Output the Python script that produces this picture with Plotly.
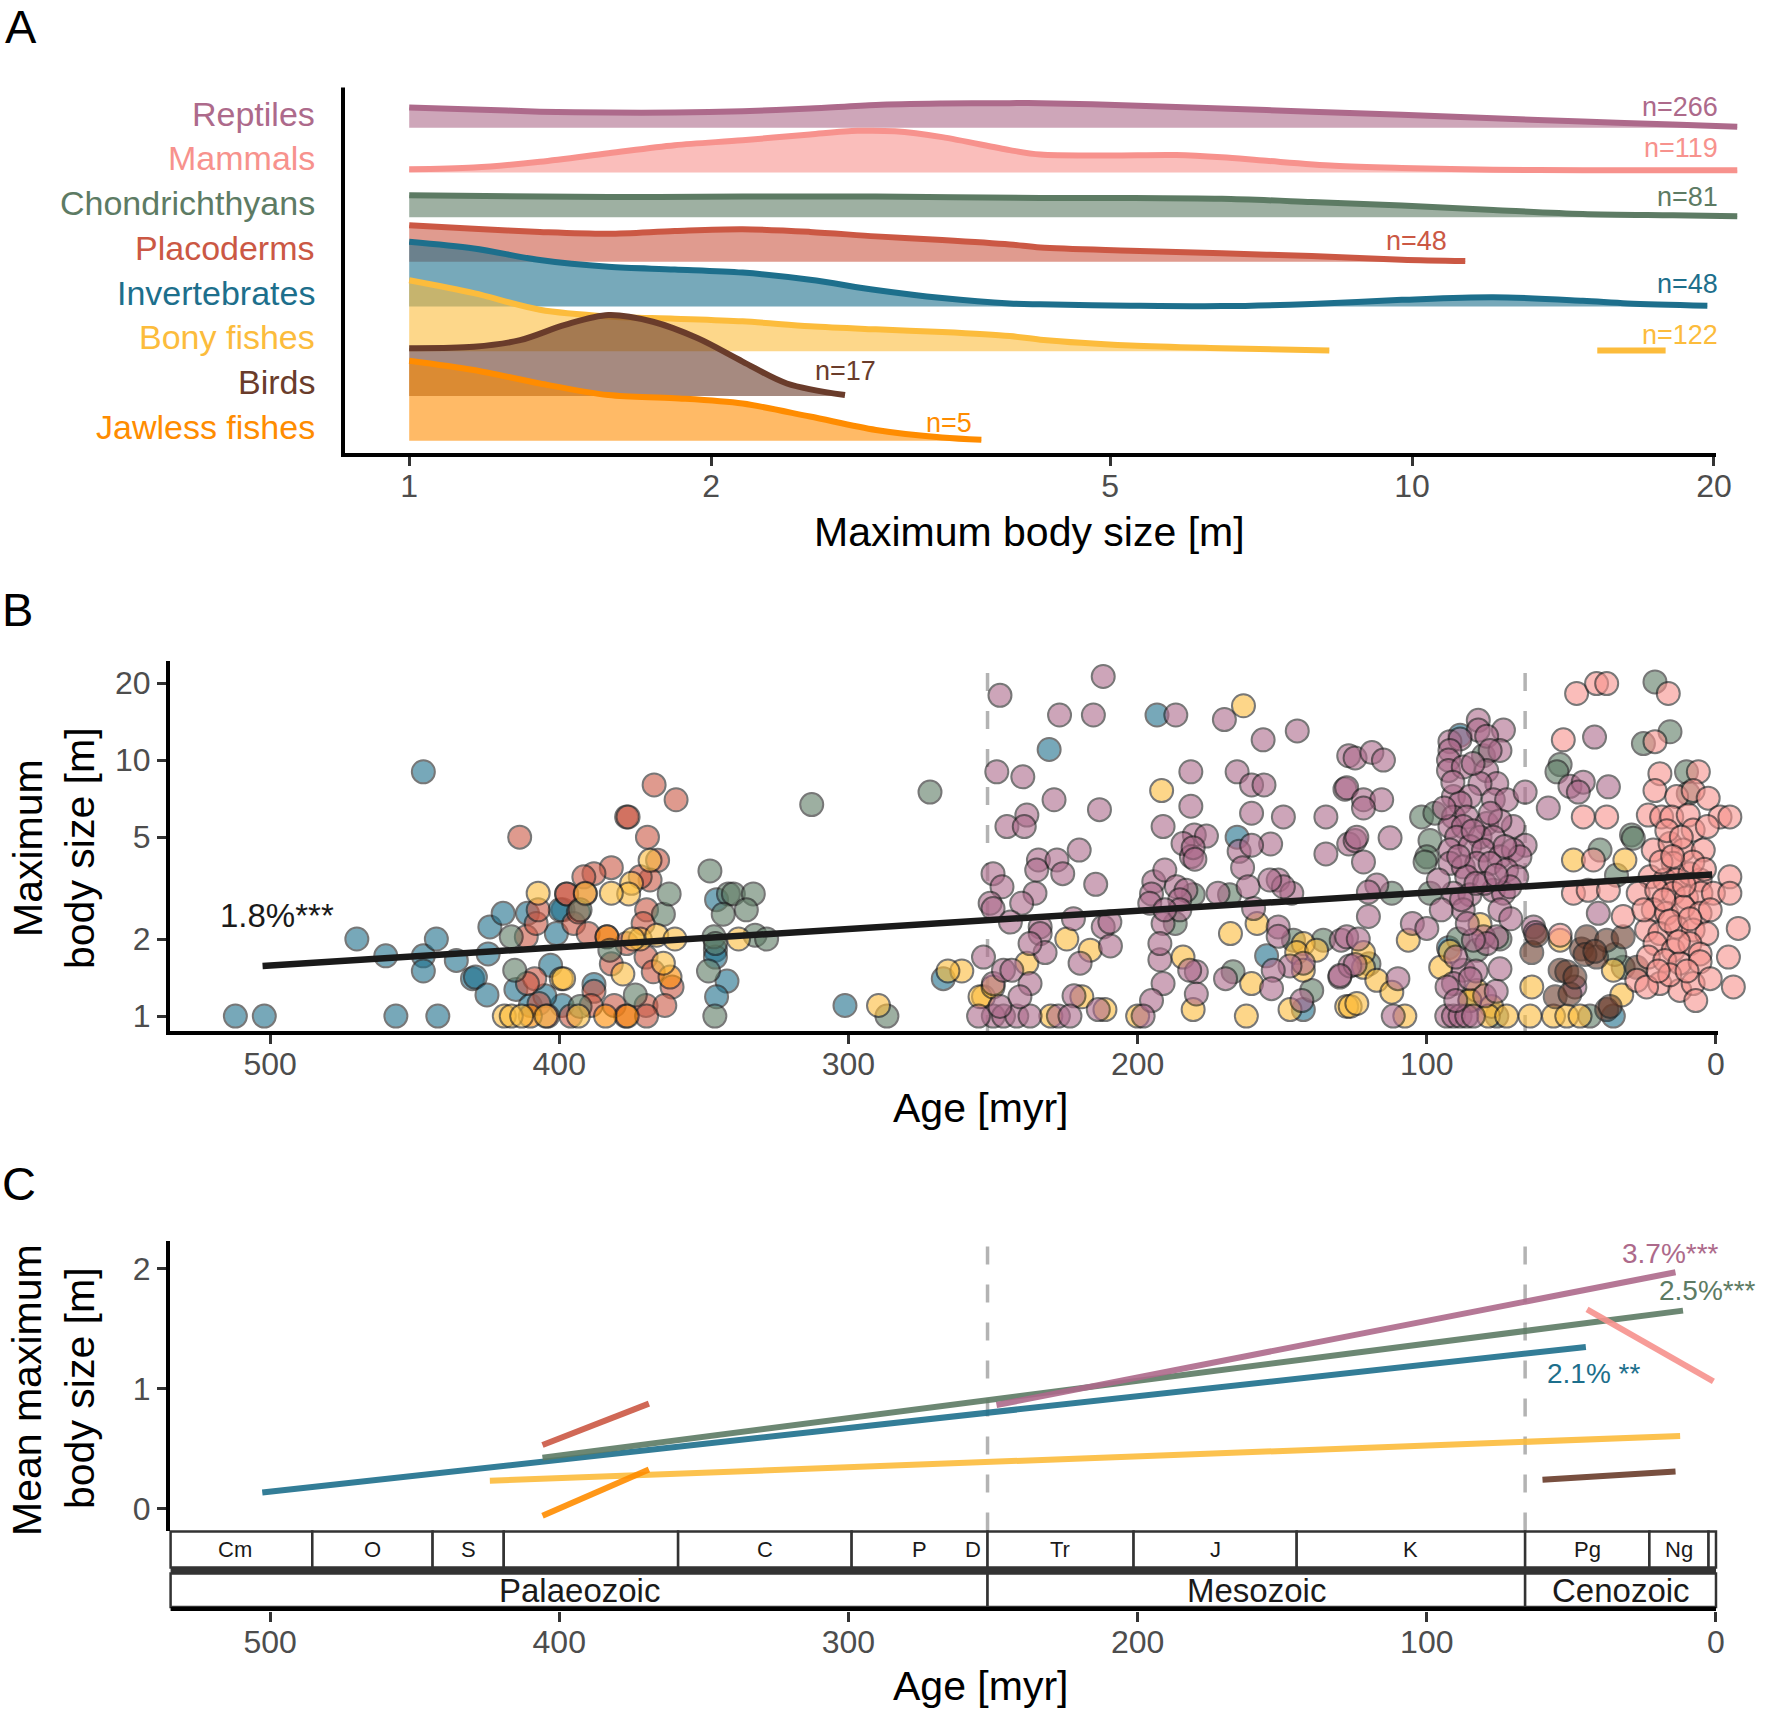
import math
import plotly.graph_objects as go

W, H = 1771, 1717
FONT = "Liberation Sans, Arial, Helvetica, sans-serif"
TICK_GREY = "#4D4D4D"

# ---------------------------------------------------------------- data
GROUPS = ["Reptiles", "Mammals", "Chondrichthyans", "Placoderms",
          "Invertebrates", "Bony fishes", "Birds", "Jawless fishes"]
COLORS = {"Reptiles": "#AD6A8B", "Mammals": "#F7928D", "Chondrichthyans": "#5D7B64",
          "Placoderms": "#CB5844", "Invertebrates": "#1D6F8C", "Bony fishes": "#FCBC3C",
          "Birds": "#6A3C2B", "Jawless fishes": "#FF8C00"}
N_TEXT = {"Reptiles": "n=266", "Mammals": "n=119", "Chondrichthyans": "n=81",
          "Placoderms": "n=48", "Invertebrates": "n=48", "Bony fishes": "n=122",
          "Birds": "n=17", "Jawless fishes": "n=5"}

# Panel A: density ridges (size in m -> relative ridge height)
GRID = [1.0, 1.16, 1.35, 1.58, 1.84, 2.15, 2.51, 2.92, 3.40, 3.97, 4.26, 5.24, 6.46, 7.94, 9.77, 12.05, 14.8, 18.2, 21.1]
RIDGE_SIZE = {
    "Reptiles": GRID,
    "Mammals": [1.0, 1.16, 1.35, 1.58, 1.84, 2.15, 2.51, 2.80, 3.05, 3.40, 3.97, 4.26, 4.98, 5.82, 6.46, 7.16, 8.37, 9.77, 12.05, 14.8, 18.2, 21.1],
    "Chondrichthyans": [1.0, 1.58, 2.15, 2.92, 4.26, 5.24, 6.46, 7.94, 9.77, 12.05, 14.8, 18.2, 21.1],
    "Placoderms": [1.0, 1.16, 1.35, 1.58, 1.84, 2.15, 2.51, 2.92, 3.40, 3.97, 4.26, 5.24, 6.46, 7.94, 9.77, 11.3],
    "Invertebrates": [1.0, 1.16, 1.35, 1.58, 1.84, 2.15, 2.51, 2.92, 3.40, 3.97, 4.26, 5.24, 6.46, 7.94, 9.77, 12.05, 14.8, 16.4, 19.7],
    "Bony fishes": [1.0, 1.16, 1.35, 1.58, 1.84, 2.15, 2.51, 2.92, 3.40, 3.97, 4.26, 5.24, 6.46, 8.27],
    "Birds": [1.0, 1.16, 1.29, 1.43, 1.58, 1.75, 1.94, 2.15, 2.38, 2.72],
    "Jawless fishes": [1.0, 1.16, 1.35, 1.58, 1.84, 2.15, 2.51, 2.92, 3.40, 3.72],
}
RIDGE_DENS = {
    "Reptiles": [0.45, 0.41, 0.36, 0.34, 0.34, 0.37, 0.43, 0.51, 0.54, 0.55, 0.55, 0.50, 0.43, 0.36, 0.29, 0.21, 0.14, 0.07, 0.02],
    "Mammals": [0.07, 0.11, 0.24, 0.43, 0.61, 0.72, 0.85, 0.93, 0.92, 0.79, 0.50, 0.40, 0.38, 0.39, 0.34, 0.26, 0.15, 0.10, 0.06, 0.05, 0.05, 0.05],
    "Chondrichthyans": [0.49, 0.45, 0.46, 0.46, 0.43, 0.43, 0.41, 0.34, 0.26, 0.16, 0.07, 0.04, 0.02],
    "Placoderms": [0.82, 0.74, 0.67, 0.63, 0.69, 0.73, 0.67, 0.57, 0.49, 0.39, 0.32, 0.25, 0.19, 0.13, 0.05, 0.02],
    "Invertebrates": [1.45, 1.30, 1.04, 0.89, 0.83, 0.76, 0.60, 0.37, 0.19, 0.07, 0.05, 0.02, 0.01, 0.06, 0.15, 0.21, 0.13, 0.07, 0.02],
    "Bony fishes": [1.59, 1.30, 0.93, 0.78, 0.73, 0.67, 0.56, 0.49, 0.43, 0.34, 0.26, 0.13, 0.07, 0.02],
    "Birds": [1.07, 1.10, 1.25, 1.59, 1.81, 1.66, 1.29, 0.77, 0.28, 0.02],
    "Jawless fishes": [1.79, 1.58, 1.28, 1.02, 0.95, 0.83, 0.54, 0.24, 0.07, 0.02],
}
BONY_TAIL_SIZE = [15.3, 17.9]
BONY_TAIL_DENS = [0.02, 0.02]

# Panel B: (age [myr], maximum body size [m]) per group
PTS_INVERTEBRATES = [(512, 1.0), (502, 1.0), (470, 2.0), (460, 1.72), (456.5, 1.0), (447, 9.0), (447, 1.72), (447, 1.5),
    (442.5, 2.0), (442, 1.0), (435.6, 1.65), (430, 1.40), (429, 1.42), (425, 1.21), (424.6, 1.75), (424, 2.23), (419.4, 2.52),
    (415, 1.27), (411, 2.52), (403, 1.58), (401, 2.1), (398.7, 2.6), (399, 1.1), (388, 1.33), (399.7, 2.6), (345.6, 2.85),
    (346, 1.81), (346, 1.7), (342, 1.37), (345.6, 1.19), (301.2, 1.10), (267.2, 1.40), (193.3, 15.0), (230.6, 11.0),
    (165.6, 5.0), (142.7, 1.06), (155.4, 1.72), (92.5, 1.85), (88.5, 12.5), (35.5, 1.0), (410, 1.1), (405, 1.2)]
PTS_PLACODERMS = [(413.7, 5.0), (411.4, 2.04), (408, 2.3), (407.3, 2.6), (408.5, 1.4), (411, 1.34), (397.5, 3.0), (407, 1.12),
    (367.2, 8.0), (359.6, 7.0), (376.7, 6.0), (376.2, 6.0), (369.5, 5.0), (366, 4.06), (368.6, 3.4), (372, 3.5), (382, 3.8),
    (388, 3.6), (391.5, 3.5), (397.4, 3.0), (391, 3.0), (369.8, 2.6), (371, 2.3), (395, 2.3), (390, 2.1), (383.5, 2.04),
    (376.7, 1.92), (370, 1.7), (382, 1.6), (367.5, 1.49), (361, 1.30), (388, 1.25), (389, 1.10), (381, 1.10), (370, 1.10),
    (363.5, 1.10), (377, 1.0), (369.8, 1.0), (393.4, 2.55), (404, 1.0), (396, 1.0)]
PTS_JAWLESS = [(383.5, 2.04), (361.7, 1.42), (384, 1.0), (376.5, 1.0), (410, 1.0)]
PTS_CHONDRICHTHYANS = [(416.6, 2.04), (415.4, 1.51), (392.8, 2.6), (382.5, 1.81), (364, 2.5), (362, 3.0), (347.9, 3.69),
    (341.5, 3.0), (339.8, 3.0), (332.9, 3.0), (343.3, 2.5), (335.3, 2.6), (346.5, 2.04), (346, 1.92), (332.3, 2.07),
    (328.3, 2.0), (348.4, 1.5), (373.7, 1.21), (392.8, 1.09), (346.2, 1.0), (312.7, 6.7), (271.8, 7.5), (286.7, 1.0),
    (180.8, 2.98), (168.2, 2.98), (167, 1.49), (139.8, 1.26), (135.8, 1.98), (146.1, 1.98), (101.8, 6.0), (97.2, 6.2),
    (98.9, 4.85), (100, 4.19), (100.6, 4.0), (112.1, 3.02), (98.9, 3.02), (80.4, 10.4), (53.9, 9.6), (55, 9.0),
    (21.1, 20.2), (15.9, 12.9), (25.1, 11.6), (10.2, 9.0), (29.2, 5.1), (28.6, 4.95), (40.1, 4.45), (34.4, 3.55),
    (89.1, 2.0), (82.7, 1.81), (74.7, 2.0), (32.1, 1.55), (35, 1.74), (85.1, 1.15), (75.8, 1.0), (43.6, 1.0), (9.6, 7.4),
    (187, 2.3), (120, 1.6)]
PTS_BONY = [(407.3, 3.02), (399.3, 1.40), (419, 1.0), (416.6, 1.0), (413, 1.0), (404.6, 1.0), (368.6, 4.06), (375, 3.3),
    (376, 3.0), (382, 3.02), (391, 3.02), (372, 2.0), (374.5, 2.0), (366.3, 2.07), (360, 2.0), (364, 1.61), (378, 1.46),
    (398.5, 1.40), (393.4, 1.0), (338, 2.0), (289.6, 1.10), (163.4, 16.3), (191.7, 7.6), (224.5, 2.0), (216.4, 1.81),
    (260.8, 1.5), (238.3, 1.61), (253.3, 1.19), (219.3, 1.19), (211.3, 1.06), (184.3, 1.7), (180.8, 1.06), (167.9, 2.1),
    (158.7, 2.3), (160.6, 1.34), (162.4, 1.0), (147.3, 1.06), (142.7, 1.92), (145, 1.77), (138.1, 1.81), (142.7, 1.51),
    (127.7, 1.09), (254.5, 1.19), (106.4, 1.98), (121.9, 1.77), (121.9, 1.55), (117.3, 1.38), (112.1, 1.24), (126.5, 1.09),
    (124.2, 1.12), (107.6, 1.0), (95.2, 1.55), (92, 1.79), (81.6, 2.28), (82.7, 1.26), (85.1, 1.15), (77.6, 1.09),
    (78.7, 1.0), (72.4, 1.0), (64.3, 1.0), (56.2, 1.0), (51.6, 1.0), (47, 1.0), (63.7, 1.3), (49.3, 4.07), (31.5, 4.07),
    (53.9, 1.98), (32.6, 1.21), (35.5, 1.51), (230, 1.0), (200, 1.0), (250, 1.3), (265.6, 1.5)]
PTS_REPTILES = [(247.6, 17.9), (211.9, 21.2), (227, 15.0), (215.3, 15.0), (186.8, 15.0), (170, 14.4), (156.6, 12.0),
    (144.8, 13.0), (248.7, 9.0), (239.7, 8.6), (228.9, 7.0), (213.2, 6.4), (181.6, 9.0), (165.6, 9.0), (160.6, 8.0),
    (156.3, 8.0), (181.6, 6.6), (160.6, 6.2), (149.6, 6.0), (134.9, 6.0), (245.2, 5.5), (238.3, 6.1), (239.2, 5.5),
    (191.2, 5.5), (180.4, 5.1), (176.2, 5.05), (184.3, 4.72), (181.4, 4.2), (154, 4.7), (134.9, 4.3), (164.9, 4.4),
    (163.7, 3.8), (160.6, 4.65), (234.3, 4.07), (227.9, 4.07), (234.9, 3.72), (225.9, 3.6), (220.2, 4.45), (214.5, 3.27),
    (250, 3.6), (246.9, 3.2), (235.5, 3.02), (240.1, 2.76), (251, 2.76), (250, 2.63), (244, 2.33), (233.7, 2.23),
    (222.2, 2.4), (211.9, 2.23), (209.6, 2.33), (209.4, 1.88), (194.4, 3.35), (190.6, 3.72), (195.2, 3.0), (195.8, 2.76),
    (186.6, 3.2), (183.3, 3.1), (185.4, 2.85), (180.8, 4.55), (180.2, 4.1), (191.2, 2.3), (185.4, 2.6), (190.6, 2.6),
    (172.2, 3.02), (161.8, 3.2), (159.9, 2.63), (151.4, 3.4), (146.7, 3.02), (149.6, 3.2), (154.3, 3.4), (151.4, 2.23),
    (151.4, 2.05), (129.6, 1.98), (142.7, 1.61), (147.3, 1.57), (153.1, 1.51), (153.7, 1.28), (130.1, 1.42), (126.6, 1.57),
    (143.2, 1.15), (169.6, 1.40), (179.7, 1.49), (182, 1.51), (179.7, 1.22), (191.2, 1.34), (195.2, 1.15), (198.1, 1.0),
    (192.3, 1.66), (192.3, 1.92), (253.3, 1.70), (249.9, 1.34), (246.4, 1.51), (243.5, 1.51), (249.9, 1.0), (246.4, 1.0),
    (241.8, 1.0), (237.2, 1.0), (237.2, 1.34), (255, 1.0), (247.6, 1.09), (240.7, 1.19), (233.7, 2.1), (232, 1.77),
    (237.2, 1.92), (219.9, 1.61), (222, 1.2), (227.4, 1.0), (223.4, 1.0), (213.6, 1.06), (127, 10.4), (128.3, 7.7),
    (127, 4.7), (124.8, 10.2), (119, 10.7), (115, 10.0), (127.7, 7.8), (121.9, 7.0), (115.6, 7.0), (121.9, 6.5),
    (124.8, 4.85), (124.2, 5.0), (112.7, 4.97), (121.9, 4.0), (117.3, 3.25), (120.2, 3.05), (120.2, 2.45), (127.7, 2.04),
    (123.7, 2.0), (124.8, 1.59), (130, 1.44), (111.6, 1.0), (82.2, 14.3), (82.2, 13.1), (73.5, 13.1), (79.3, 12.4),
    (92, 11.8), (88.5, 12.1), (74.7, 10.9), (78.1, 10.9), (92, 10.9), (92.5, 10.0), (92.5, 9.1), (87.4, 9.4), (79.3, 9.1),
    (75.8, 8.1), (81.6, 8.1), (90.8, 7.2), (85.1, 7.2), (77, 7.0), (72.4, 7.0), (88.5, 6.8), (90.8, 6.0), (86.2, 6.0),
    (92, 5.5), (87.4, 5.5), (79.3, 5.65), (70.1, 5.5), (74.7, 5.8), (81.6, 5.0), (77, 5.0), (89.7, 5.0), (66, 4.65),
    (92, 4.45), (85.1, 4.6), (80.4, 4.45), (74.7, 4.19), (70.1, 4.45), (67.8, 4.19), (92, 3.95), (87.4, 3.83),
    (82.7, 3.95), (78.1, 3.95), (72.4, 3.72), (86.2, 3.5), (68.9, 3.5), (90.8, 3.02), (85.1, 2.98), (77, 3.1),
    (73.5, 3.02), (71.3, 3.2), (87.4, 2.6), (74.7, 2.6), (80.4, 2.04), (75.8, 2.04), (79.3, 1.92), (83.9, 1.98),
    (87.4, 1.51), (74.7, 1.53), (90.8, 1.34), (93.1, 1.0), (90.8, 1.0), (88.5, 1.0), (86.2, 1.0), (83.9, 1.0), (66, 7.5),
    (58, 6.5), (63.1, 2.23), (62.5, 2.12), (42, 12.3), (50.5, 7.9), (45.9, 8.2), (47.6, 7.5), (37.2, 7.86), (40.7, 2.52),
    (48.8, 1.3), (105, 2.3), (110, 1.4), (100, 2.2), (96, 3.4), (95, 2.6), (83, 1.5), (80, 1.2), (90, 1.7), (86, 2.3),
    (76, 1.25), (93, 1.3), (90, 1.15), (85, 1.4), (89, 4.2), (84, 5.3), (78, 6.2), (73, 4.6), (94, 6.5), (80, 3.3),
    (88, 2.85), (83, 3.3), (76, 3.55), (91, 8.2), (84, 9.7), (71, 2.4)]
PTS_BIRDS = [(63.7, 1.77), (62, 2.07), (55.6, 1.19), (50.5, 1.22), (53.9, 1.51), (51.6, 1.49), (48.8, 1.42), (46.5, 1.83),
    (44.7, 2.04), (41.3, 1.70), (37.8, 1.98), (32.1, 2.04), (45.3, 1.74), (41.9, 1.79), (37.8, 1.06), (36.6, 1.09),
    (27.4, 1.55)]
PTS_MAMMALS = [(48.2, 18.2), (41.3, 19.9), (37.8, 19.9), (16.5, 18.2), (52.8, 12.0), (21.1, 11.8), (19.4, 8.85), (6.1, 9.0),
    (21.1, 7.6), (13.6, 7.2), (7.9, 7.6), (2.7, 7.1), (45.9, 6.0), (37.8, 6.0), (23.4, 6.1), (18.8, 6.0), (15.3, 6.0),
    (9.6, 6.1), (7.9, 5.33), (-1.4, 6.0), (-4.8, 6.0), (21.7, 4.45), (15.9, 4.72), (11.3, 4.45), (4.4, 4.45), (14.8, 3.95),
    (42.4, 4.07), (49.3, 3.02), (44.2, 3.1), (37.2, 3.1), (22.8, 3.5), (17.7, 3.4), (13.6, 3.4), (9, 3.6), (5.5, 3.4),
    (-4.8, 3.5), (26.9, 3.02), (20.5, 3.1), (14.8, 3.02), (10.2, 2.9), (5.2, 3.02), (0.9, 3.02), (-4.8, 3.02), (21.7, 2.6),
    (17.1, 2.52), (11.3, 2.67), (5.5, 2.52), (24, 2.17), (19.4, 2.1), (13.7, 2.23), (7.9, 2.17), (3.2, 2.1), (-7.7, 2.2),
    (32.1, 2.45), (21.1, 1.92), (14.8, 1.81), (9, 1.92), (5.5, 1.75), (23.4, 1.70), (17.7, 1.65), (12.5, 1.61), (5.5, 1.63),
    (-4.3, 1.70), (27.4, 1.38), (19.4, 1.34), (12.5, 1.26), (7.9, 1.34), (53.9, 2.07), (17, 5.3), (12, 5.0), (3, 5.5),
    (19, 4.0), (8, 4.0), (25, 2.6), (2, 2.6), (16, 1.45), (10, 1.5), (2, 1.4), (24, 1.3), (-6, 1.3), (18, 2.85),
    (11, 3.25), (16, 2.35), (9, 2.4), (13, 1.95), (20, 1.5), (7, 1.15), (15, 4.2), (4, 3.75)]
POINTS = [("Invertebrates", PTS_INVERTEBRATES), ("Placoderms", PTS_PLACODERMS), ("Jawless fishes", PTS_JAWLESS),
          ("Chondrichthyans", PTS_CHONDRICHTHYANS), ("Bony fishes", PTS_BONY), ("Reptiles", PTS_REPTILES),
          ("Birds", PTS_BIRDS), ("Mammals", PTS_MAMMALS)]
TREND_B_AGE = [502.6, 1.3]
TREND_B_SIZE = [1.57, 3.57]
TREND_B_LABEL = "1.8%***"

# Panel C: fitted trends of mean maximum body size
TREND_C = [("Invertebrates", [502.7, 45.0], [0.135, 1.347]),
           ("Chondrichthyans", [405.8, 11.4], [0.425, 1.65]),
           ("Bony fishes", [424.0, 12.4], [0.233, 0.605]),
           ("Birds", [60.0, 14.0], [0.24, 0.31]),
           ("Placoderms", [405.8, 369.0], [0.53, 0.875]),
           ("Jawless fishes", [405.8, 369.0], [-0.06, 0.325]),
           ("Reptiles", [248.8, 14.0], [0.863, 1.97]),
           ("Mammals", [44.6, 0.9], [1.66, 1.06])]
TREND_C_LABELS = [("3.7%***", "Reptiles", 15.9, 2.13), ("2.5%***", "Chondrichthyans", 3.1, 1.82),
                  ("2.1% **", "Invertebrates", 42.5, 1.125)]
BOUNDARIES = [251.9, 66.0]
PERIOD_EDGES = [534.4, 485.4, 443.8, 419.2, 358.9, 298.9, 251.9, 201.4, 145.0, 66.0, 23.03, 2.58, 0.0]
PERIOD_LABELS = [("Cm", 512.1), ("O", 464.6), ("S", 431.5), ("C", 328.9), ("P", 275.4), ("D", 256.8),
                 ("Tr", 226.7), ("J", 173.2), ("K", 105.5), ("Pg", 44.5), ("Ng", 12.8)]
ERAS = [("Palaeozoic", 534.4, 251.9), ("Mesozoic", 251.9, 66.0), ("Cenozoic", 66.0, 0.0)]


# ---------------------------------------------------------------- helpers
def rgba(hexc, a):
    h = hexc.lstrip("#")
    return "rgba(%d,%d,%d,%.3f)" % (int(h[0:2], 16), int(h[2:4], 16), int(h[4:6], 16), a)


def fx(p):
    return p / W


def fy(p):
    return 1 - p / H


# pixel layout of the three panels
A_X, A_Y = (343, 1750), (87.5, 455)
B_X, B_Y = (168, 1750), (661, 1033)
C_X, C_Y = (168, 1750), (1241, 1611)

fig = go.Figure()

# ---------------------------------------------------------------- panel A
nG = len(GROUPS)
RIDGE_LW = 6
for i, g in enumerate(GROUPS):
    base = nG - i
    xs, ds = RIDGE_SIZE[g], RIDGE_DENS[g]
    fig.add_trace(go.Scatter(x=xs, y=[base] * len(xs), mode="lines", line=dict(width=0, color=rgba(COLORS[g], 0)),
                             hoverinfo="skip", showlegend=False, xaxis="x", yaxis="y"))
    fig.add_trace(go.Scatter(x=xs, y=[base + d for d in ds], mode="lines", fill="tonexty",
                             fillcolor=rgba(COLORS[g], 0.6),
                             line=dict(color=COLORS[g], width=RIDGE_LW, shape="spline", smoothing=0.9),
                             hoverinfo="skip", showlegend=False, xaxis="x", yaxis="y"))
    if g == "Bony fishes":
        fig.add_trace(go.Scatter(x=BONY_TAIL_SIZE, y=[base + d for d in BONY_TAIL_DENS], mode="lines",
                                 line=dict(color=COLORS[g], width=RIDGE_LW), hoverinfo="skip", showlegend=False,
                                 xaxis="x", yaxis="y"))

# ---------------------------------------------------------------- panel B
for g, pts in POINTS:
    fig.add_trace(go.Scatter(x=[p[0] for p in pts], y=[p[1] for p in pts], mode="markers",
                             marker=dict(size=23, color=COLORS[g], opacity=0.6, line=dict(color="#1e1e1e", width=2)),
                             cliponaxis=False, hoverinfo="skip", showlegend=False, xaxis="x2", yaxis="y2"))
fig.add_trace(go.Scatter(x=TREND_B_AGE, y=TREND_B_SIZE, mode="lines", line=dict(color="#1a1a1a", width=6.5),
                         hoverinfo="skip", showlegend=False, xaxis="x2", yaxis="y2"))

# ---------------------------------------------------------------- panel C
for g, ages, vals in TREND_C:
    fig.add_trace(go.Scatter(x=ages, y=vals, mode="lines", line=dict(color=COLORS[g], width=6), opacity=0.9,
                             hoverinfo="skip", showlegend=False, xaxis="x3", yaxis="y3"))

shapes = []
ann = []

# dashed era boundaries
for b in BOUNDARIES:
    shapes.append(dict(type="line", xref="x2", yref="y2 domain", x0=b, x1=b, y0=0, y1=1, layer="below",
                       line=dict(color="#B3B3B3", width=3.5, dash="18px,20px")))
    shapes.append(dict(type="line", xref="x3", yref="y3", x0=b, x1=b, y0=-0.183, y1=2.23, layer="below",
                       line=dict(color="#B3B3B3", width=3.5, dash="18px,20px")))

# geological timescale (in y3 data units below zero)
P_TOP, P_BOT, E_TOP, E_BOT, AX_BOT = -0.19, -0.49, -0.54, -0.82, -0.853
shapes.append(dict(type="rect", xref="x3", yref="y3", x0=PERIOD_EDGES[0], x1=0, y0=P_BOT, y1=E_TOP,
                   fillcolor="#333333", line=dict(width=0)))
for a0, a1 in zip(PERIOD_EDGES[:-1], PERIOD_EDGES[1:]):
    shapes.append(dict(type="rect", xref="x3", yref="y3", x0=a0, x1=a1, y0=P_TOP, y1=P_BOT,
                       fillcolor="white", line=dict(color="#333333", width=2.5)))
for name, a0, a1 in ERAS:
    shapes.append(dict(type="rect", xref="x3", yref="y3", x0=a0, x1=a1, y0=E_TOP, y1=E_BOT,
                       fillcolor="white", line=dict(color="#333333", width=2.5)))
    ann.append(dict(text=name, xref="x3", yref="y3", x=(a0 + a1) / 2, y=(E_TOP + E_BOT) / 2, showarrow=False,
                    font=dict(size=33, color="#1a1a1a"), xanchor="center", yanchor="middle"))
for name, age in PERIOD_LABELS:
    ann.append(dict(text=name, xref="x3", yref="y3", x=age, y=(P_TOP + P_BOT) / 2, showarrow=False,
                    font=dict(size=22, color="#1a1a1a"), xanchor="center", yanchor="middle"))
shapes.append(dict(type="rect", xref="x3", yref="y3", x0=PERIOD_EDGES[0], x1=0, y0=E_BOT, y1=AX_BOT,
                   fillcolor="black", line=dict(width=0)))

# axis lines (capped at the last tick, as in the reference)
LW = 4
shapes += [
    dict(type="line", xref="paper", yref="paper", x0=fx(343), x1=fx(343), y0=fy(87.5), y1=fy(457), line=dict(color="black", width=LW)),
    dict(type="line", xref="paper", yref="paper", x0=fx(341), x1=fx(1716), y0=fy(455), y1=fy(455), line=dict(color="black", width=LW)),
    dict(type="line", xref="paper", yref="paper", x0=fx(168), x1=fx(168), y0=fy(661), y1=fy(1035), line=dict(color="black", width=LW)),
    dict(type="line", xref="paper", yref="paper", x0=fx(166), x1=fx(1718), y0=fy(1033), y1=fy(1033), line=dict(color="black", width=LW)),
    dict(type="line", xref="paper", yref="paper", x0=fx(168), x1=fx(168), y0=fy(1241), y1=fy(1531), line=dict(color="black", width=LW)),
]

# ridge labels (category names + sample sizes)
N_POS = {"Reptiles": ("right", 20.3, 8.47), "Mammals": ("right", 20.3, 7.55), "Chondrichthyans": ("right", 20.3, 6.45),
         "Placoderms": ("center", 10.1, 5.46), "Invertebrates": ("right", 20.3, 4.51), "Bony fishes": ("right", 20.3, 3.37),
         "Birds": ("center", 2.72, 2.57), "Jawless fishes": ("center", 3.45, 1.39)}
for i, g in enumerate(GROUPS):
    base = nG - i
    ann.append(dict(text=g, xref="paper", yref="y", x=fx(317), y=base, xanchor="right", yanchor="bottom",
                    yshift=-7, showarrow=False, font=dict(size=34, color=COLORS[g])))
    anc, xm, yv = N_POS[g]
    ann.append(dict(text=N_TEXT[g], xref="x", yref="y", x=math.log10(xm), y=yv, xanchor=anc, yanchor="middle",
                    showarrow=False, font=dict(size=27, color=COLORS[g])))

ann.append(dict(text=TREND_B_LABEL, xref="x2", yref="y2", x=497.6, y=math.log10(2.47), showarrow=False,
                font=dict(size=33, color="#1a1a1a"), xanchor="center", yanchor="middle"))
for txt, g, age, v in TREND_C_LABELS:
    ann.append(dict(text=txt, xref="x3", yref="y3", x=age, y=v, showarrow=False,
                    font=dict(size=28, color=COLORS[g]), xanchor="center", yanchor="middle"))

# titles and panel tags (explicit anchors: paper 'auto' anchoring would shift them)
TITLE = dict(size=41, color="black")


def ptext(text, x, y, font, angle=0):
    return dict(text=text, xref="paper", yref="paper", x=fx(x), y=fy(y), showarrow=False, font=font,
                xanchor="center", yanchor="middle", textangle=angle)


ann += [
    ptext("A", 21, 26, dict(size=47, color="black")),
    ptext("B", 17, 609, dict(size=47, color="black")),
    ptext("C", 19, 1183, dict(size=47, color="black")),
    ptext("Maximum body size [m]", 1029, 532, TITLE),
    ptext("Age [myr]", 980, 1108, TITLE),
    ptext("Age [myr]", 980, 1686, TITLE),
    ptext("Maximum", 28, 848, TITLE, -90),
    ptext("body size [m]", 80, 848, TITLE, -90),
    ptext("Mean maximum", 27, 1390, TITLE, -90),
    ptext("body size [m]", 80, 1388, TITLE, -90),
]

TICKS = dict(ticks="outside", ticklen=10, tickwidth=2.5, tickcolor="#333333", showline=False, showgrid=False,
             zeroline=False, tickfont=dict(size=32, color=TICK_GREY))
AGE_TICKS = [500, 400, 300, 200, 100, 0]

fig.update_layout(
    width=W, height=H, autosize=False, margin=dict(l=0, r=0, t=0, b=0),
    paper_bgcolor="white", plot_bgcolor="white", font=dict(family=FONT), showlegend=False,
    xaxis=dict(domain=[fx(A_X[0]), fx(A_X[1])], type="log", range=[math.log10(0.859), (1750 - 409) / 1003],
               tickvals=[1, 2, 5, 10, 20], ticktext=["1", "2", "5", "10", "20"], anchor="y",
               ticklabelstandoff=-7, **TICKS),
    yaxis=dict(domain=[fy(A_Y[1]), fy(A_Y[0])], range=[0.68, 8.9], showticklabels=False, ticks="",
               showgrid=False, zeroline=False, showline=False, anchor="x"),
    xaxis2=dict(domain=[fx(B_X[0]), fx(B_X[1])], range=[535.3, -11.76], tickvals=AGE_TICKS, anchor="y2",
                ticklabelstandoff=-7, **TICKS),
    yaxis2=dict(domain=[fy(B_Y[1]), fy(B_Y[0])], type="log", range=[math.log10(0.859), 1.387],
                tickvals=[1, 2, 5, 10, 20], ticktext=["1", "2", "5", "10", "20"], anchor="x2", **TICKS),
    xaxis3=dict(domain=[fx(C_X[0]), fx(C_X[1])], range=[535.3, -11.76], tickvals=AGE_TICKS, anchor="y3",
                ticklabelstandoff=-7, **TICKS),
    yaxis3=dict(domain=[fy(C_Y[1]), fy(C_Y[0])], range=[AX_BOT, 2.23], tickvals=[0, 1, 2], anchor="x3", **TICKS),
    shapes=shapes, annotations=ann,
)

fig.write_html("out.html", config={"displayModeBar": False},
               post_script="document.body.style.margin='0';document.body.style.overflow='hidden';")
